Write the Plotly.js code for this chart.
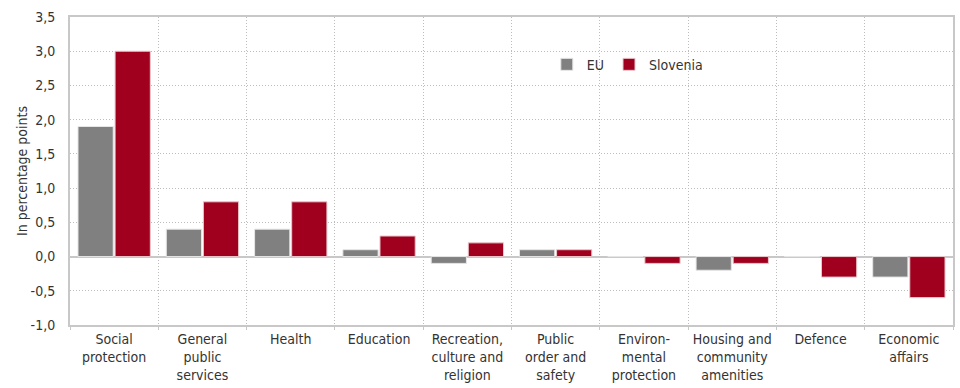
<!DOCTYPE html>
<html><head><meta charset="utf-8">
<script src="https://cdn.plot.ly/plotly-3.0.1.min.js"></script>
<style>html,body{margin:0;padding:0;background:#fff}#c{width:960px;height:388px}</style>
</head><body><div id="c"></div>
<script>
var categories = ["Social<br>protection","General<br>public<br>services","Health","Education","Recreation,<br>culture and<br>religion","Public<br>order and<br>safety","Environ-<br>mental<br>protection","Housing and<br>community<br>amenities","Defence","Economic<br>affairs"];
var euValues = [1.9,0.4,0.4,0.1,-0.1,0.1,0,-0.2,0,-0.3];
var sloValues = [3.0,0.8,0.8,0.3,0.2,0.1,-0.1,-0.1,-0.3,-0.6];
var yTickVals = [-1,-0.5,0,0.5,1,1.5,2,2.5,3,3.5];
var yTickText = ["-1,0","-0,5","0,0","0,5","1,0","1,5","2,0","2,5","3,0","3,5"];

var font = "'Liberation Sans Narrow','DejaVu Sans Condensed','Open Sans',sans-serif";
var traces = [
  {type:'bar', name:'EU', x:categories, y:euValues, marker:{color:'#808080', line:{color:'#e6e6e6', width:1}}},
  {type:'bar', name:'Slovenia', x:categories, y:sloValues, marker:{color:'#a0001e', line:{color:'#e8c8cc', width:1}}}
];
var layout = {
  width:960, height:388,
  margin:{l:70, r:7, t:17, b:63},
  paper_bgcolor:'#fff', plot_bgcolor:'#fff',
  font:{family:font, size:14, color:'#333'},
  barmode:'group', bargap:0.16, bargroupgap:0.05,
  showlegend:true,
  legend:{orientation:'h', x:0.54, y:0.845, xanchor:'left', yanchor:'middle', bgcolor:'rgba(0,0,0,0)', font:{size:14, color:'#333'}, itemwidth:30},
  xaxis:{type:'category', tickson:'boundaries', showgrid:true, gridcolor:'#bdbdbd', griddash:'1px,2px', gridwidth:1,
    ticks:'outside', ticklen:3, tickcolor:'#c8c8c8', showline:true, linecolor:'#c8c8c8', linewidth:2, mirror:true,
    tickfont:{size:14, color:'#333'}, automargin:false},
  yaxis:{range:[-1,3.5], tickvals:yTickVals, ticktext:yTickText, showgrid:true, gridcolor:'#bdbdbd', griddash:'1px,2px', gridwidth:1,
    zeroline:true, zerolinecolor:'#c8c8c8', zerolinewidth:2, showline:true, linecolor:'#c8c8c8', linewidth:2, mirror:true,
    ticks:'', ticklabelstandoff:10, tickfont:{size:14, color:'#333'}, title:{text:'In percentage points', font:{size:14, color:'#333'}, standoff:0}, automargin:false}
};
Plotly.newPlot('c', traces, layout, {displayModeBar:false, staticPlot:true});
</script></body></html>
